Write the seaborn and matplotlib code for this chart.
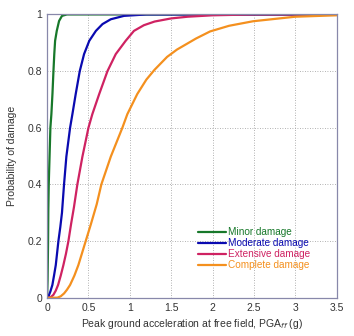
import matplotlib
matplotlib.use("Agg")
import matplotlib.pyplot as plt
import seaborn as sns
import pandas as pd

# Data
minor_x = [0.0, 0.006, 0.012, 0.015, 0.02, 0.03, 0.04, 0.052, 0.065, 0.077, 0.087, 0.097, 0.117, 0.145, 0.18, 0.24, 0.5, 1.0, 2.0, 3.5]
minor_y = [0.0, 0.06, 0.2, 0.31, 0.4, 0.5, 0.6, 0.648, 0.72, 0.8, 0.86, 0.907, 0.942, 0.977, 0.995, 1.0, 1.0, 1.0, 1.0, 1.0]

moderate_x = [0.0, 0.015, 0.024, 0.04, 0.064, 0.085, 0.105, 0.137, 0.16, 0.18, 0.205, 0.233, 0.278, 0.306, 0.346, 0.395, 0.447, 0.51, 0.59, 0.67, 0.77, 0.93, 1.2, 2.0, 3.5]
moderate_y = [0.0, 0.0, 0.01, 0.022, 0.045, 0.08, 0.115, 0.2, 0.25, 0.3, 0.4, 0.498, 0.6, 0.648, 0.719, 0.8, 0.86, 0.907, 0.942, 0.966, 0.983, 0.995, 1.0, 1.0, 1.0]

extensive_x = [0.0, 0.036, 0.076, 0.105, 0.133, 0.165, 0.197, 0.228, 0.258, 0.29, 0.325, 0.366, 0.427, 0.5, 0.547, 0.63, 0.73, 0.83, 0.95, 1.05, 1.17, 1.3, 1.5, 1.7, 2.0, 2.5, 3.5]
extensive_y = [0.0, 0.0, 0.01, 0.025, 0.045, 0.078, 0.115, 0.155, 0.2, 0.26, 0.32, 0.4, 0.498, 0.6, 0.648, 0.719, 0.8, 0.86, 0.907, 0.942, 0.962, 0.975, 0.986, 0.992, 0.997, 1.0, 1.0]

complete_x = [0.0, 0.124, 0.165, 0.205, 0.24, 0.278, 0.33, 0.378, 0.42, 0.467, 0.53, 0.6, 0.656, 0.77, 0.91, 0.97, 1.09, 1.2, 1.3, 1.45, 1.57, 1.8, 1.97, 2.2, 2.49, 3.0, 3.5]
complete_y = [0.0, 0.0, 0.005, 0.015, 0.028, 0.045, 0.078, 0.115, 0.155, 0.2, 0.26, 0.33, 0.4, 0.498, 0.6, 0.648, 0.719, 0.77, 0.805, 0.85, 0.876, 0.915, 0.94, 0.96, 0.976, 0.992, 0.997]

labels = ["Minor damage", "Moderate damage", "Extensive damage", "Complete damage"]
colors = ["#17782a", "#0a0ab0", "#cf2262", "#f4901e"]

xticks = [0, 0.5, 1, 1.5, 2, 2.5, 3, 3.5]
xticklabels = ["0", "0.5", "1", "1.5", "2", "2.5", "3", "3.5"]
yticks = [0, 0.2, 0.4, 0.6, 0.8, 1.0]
yticklabels = ["0", "0.2", "0.4", "0.6", "0.8", "1"]

frames = []
for lab, xs, ys in zip(labels,
                       [minor_x, moderate_x, extensive_x, complete_x],
                       [minor_y, moderate_y, extensive_y, complete_y]):
    frames.append(pd.DataFrame({"PGA": xs, "P": ys, "State": lab}))
df = pd.concat(frames, ignore_index=True)

sns.set_style("white")
plt.rcParams["font.family"] = ["Liberation Sans", "DejaVu Sans"]

fig = plt.figure(figsize=(3.54, 3.36), dpi=100)
ax = fig.add_axes([0.133, 0.114, 0.818, 0.843])

sns.lineplot(data=df, x="PGA", y="P", hue="State", hue_order=labels,
             palette=colors, linewidth=1.6, sort=False, estimator=None,
             ax=ax, legend=False)

ax.set_xlim(0, 3.5)
ax.set_ylim(0, 1)
ax.set_xticks(xticks)
ax.set_xticklabels(xticklabels)
ax.set_yticks(yticks)
ax.set_yticklabels(yticklabels)
ax.tick_params(axis="both", direction="in", length=3, width=0.6,
               colors="#8888aa", labelcolor="#333333", labelsize=7.5)
ax.grid(True, linestyle=(0, (1, 2)), color="#999999", linewidth=0.6)
for s in ax.spines.values():
    s.set_color("#8888aa")
    s.set_linewidth(0.9)

ax.set_xlabel("Peak ground acceleration at free field, PGA$_{ff}$ (g)", fontsize=7.5, color="#333333", labelpad=3)
ax.set_ylabel("Probability of damage", fontsize=7.5, color="#333333", labelpad=8)

handles = [plt.Line2D([0], [0], color=c, lw=1.6) for c in colors]
leg = ax.legend(handles, labels, loc="upper left", bbox_to_anchor=(0.52, 0.249),
                frameon=False, fontsize=7.2, labelcolor=colors,
                handlelength=2.8, handletextpad=0.25, labelspacing=0.1,
                borderaxespad=0.0, borderpad=0.0)

fig.savefig("out.png", dpi=100)
